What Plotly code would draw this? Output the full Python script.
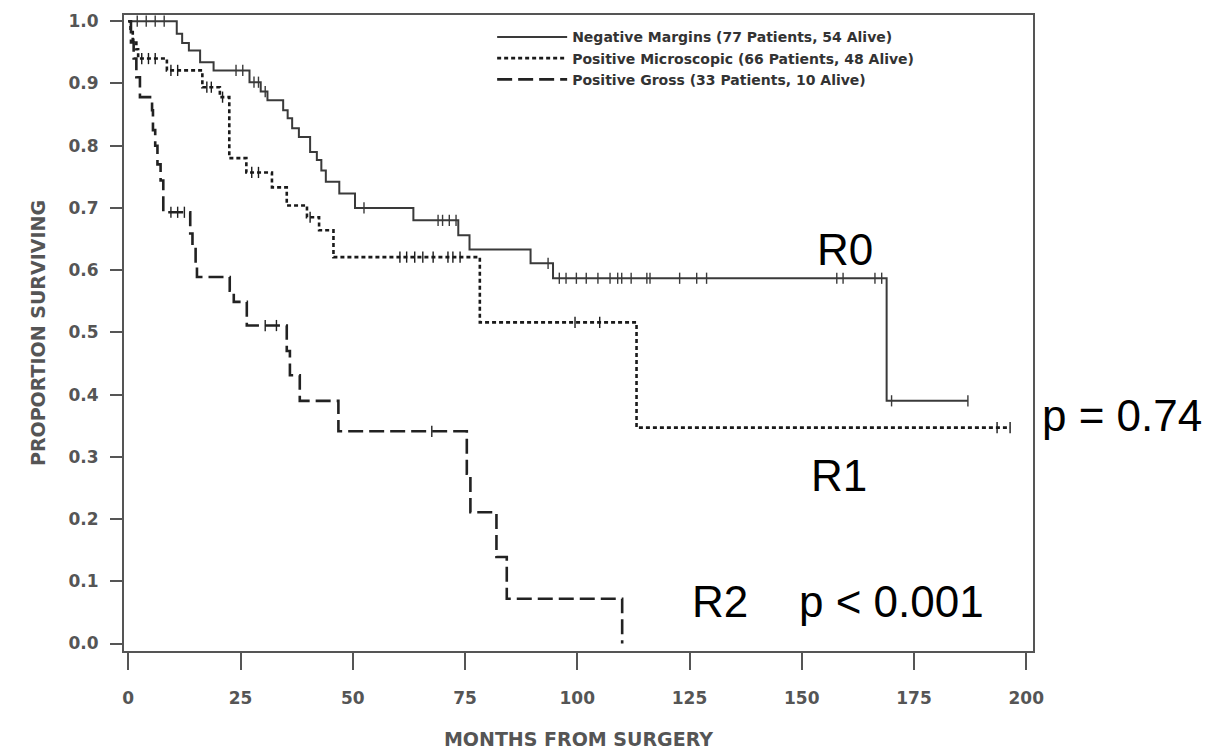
import plotly.graph_objects as go
import numpy as np

# ---- data ----
r0_t = [0, 10.8, 12, 13.5, 16, 19, 27, 29.5, 31, 34.5, 35.5, 36.5, 38, 40.5, 42, 43, 44, 47,
        50.5, 63.5, 73.5, 76, 89.6, 94.6, 168.9, 187]
r0_s = [1.0, 0.98, 0.965, 0.953, 0.934, 0.921, 0.902, 0.887, 0.873, 0.857, 0.844, 0.828, 0.814,
        0.79, 0.777, 0.76, 0.742, 0.723, 0.70, 0.68, 0.656, 0.633, 0.611, 0.587, 0.39, 0.39]

r1_t = [0, 0.5, 1.0, 1.8, 2.2, 8.6, 16.5, 20.4, 22.5, 26.3, 32, 35.3, 39.8, 42.5, 45.7, 78.3,
        113.2, 196.4]
r1_s = [1.0, 0.985, 0.97, 0.955, 0.94, 0.921, 0.894, 0.878, 0.78, 0.757, 0.733, 0.704, 0.685,
        0.664, 0.621, 0.516, 0.347, 0.347]

r2_t = [0, 0.6, 1.2, 1.8, 2.6, 5.3, 5.5, 6.0, 6.5, 7.2, 7.8, 13.8, 14.3, 15.0, 15.3, 22.6, 23.5,
        26.4, 35.3, 36.0, 38.2, 46.8, 75.4, 76.2, 82.0, 84.3, 110]
r2_s = [1.0, 0.966, 0.94, 0.91, 0.878, 0.857, 0.825, 0.80, 0.77, 0.744, 0.693, 0.659, 0.637,
        0.611, 0.589, 0.567, 0.549, 0.511, 0.47, 0.431, 0.39, 0.341, 0.273, 0.211, 0.139, 0.072, 0.0]

r0_cens = [2, 4, 6, 8, 24, 25.5, 28, 29, 30.5, 52.5, 69, 70, 71.5, 73, 93.5, 96, 97.5, 99.8, 102,
           104.6, 107.3, 109, 109.9, 112, 115.5, 116.2, 122.8, 126.6, 128.8, 157.8, 159.2, 166.3,
           167.8, 170, 187]
r1_cens = [3, 4.5, 6, 9.5, 11, 17.5, 18.5, 21, 27.5, 29, 40.5, 60.5, 62, 63.8, 65.6, 67.9, 71.2,
           72.3, 73.9, 99.5, 105, 193.5, 196.4]
r2_cens = [9.5, 11, 12.5, 30.5, 33, 67.6]

names = ["Negative Margins (77 Patients, 54 Alive)",
         "Positive Microscopic (66 Patients, 48 Alive)",
         "Positive Gross (33 Patients, 10 Alive)"]

x_ticks = [0, 25, 50, 75, 100, 125, 150, 175, 200]
y_ticks = [0.0, 0.1, 0.2, 0.3, 0.4, 0.5, 0.6, 0.7, 0.8, 0.9, 1.0]


def step_at(ts, ss, t):
    idx = np.searchsorted(np.array(ts), t, side="right") - 1
    return ss[max(idx, 0)]


styles = [dict(color="#3a3a3a", width=2.0, dash="solid"),
          dict(color="#1a1a1a", width=2.6, dash="4px,3px"),
          dict(color="#222222", width=2.6, dash="15px,6px")]

fig = go.Figure()
for (ts, ss, cs, nm, st) in [(r0_t, r0_s, r0_cens, names[0], styles[0]),
                             (r1_t, r1_s, r1_cens, names[1], styles[1]),
                             (r2_t, r2_s, r2_cens, names[2], styles[2])]:
    fig.add_trace(go.Scatter(x=ts, y=ss, mode="lines", line=dict(shape="hv", **st), name=nm))
    fig.add_trace(go.Scatter(x=cs, y=[step_at(ts, ss, c) for c in cs], mode="markers",
                             marker=dict(symbol="line-ns", size=8,
                                         line=dict(color=st["color"], width=1.4)),
                             showlegend=False, hoverinfo="skip"))

tickfont = dict(family="DejaVu Sans", size=17, color="#555555", weight="bold")
titlefont = dict(family="DejaVu Sans", size=19, color="#555555", weight="bold")

fig.update_layout(
    width=1218, height=752,
    paper_bgcolor="white", plot_bgcolor="white",
    margin=dict(l=116, r=193, t=7, b=109, autoexpand=False),
    showlegend=True,
    legend=dict(x=0.405, y=0.99, xanchor="left", yanchor="top",
                bgcolor="rgba(0,0,0,0)", borderwidth=0,
                font=dict(family="DejaVu Sans", size=14, color="#333333", weight="bold"),
                itemwidth=70, tracegroupgap=0),
    xaxis=dict(range=[-0.95, 201.5], tickvals=x_ticks, ticktext=[str(v) for v in x_ticks],
               showgrid=False, zeroline=False, showline=True, mirror=True,
               linecolor="#555555", linewidth=2, ticks="outside", ticklen=17, tickwidth=2,
               tickcolor="#555555", tickfont=tickfont, ticklabelstandoff=14,
               title=dict(text="MONTHS FROM SURGERY", font=titlefont, standoff=25),
               automargin=False),
    yaxis=dict(range=[-0.012, 1.01], tickvals=y_ticks, ticktext=[f"{v:.1f}" for v in y_ticks],
               showgrid=False, zeroline=False, showline=True, mirror=True,
               linecolor="#555555", linewidth=2, ticks="outside", ticklen=12, tickwidth=2,
               tickcolor="#555555", tickfont=tickfont, ticklabelstandoff=8,
               title=dict(text="PROPORTION SURVIVING", font=titlefont, standoff=18),
               automargin=False),
)

big = dict(family="Liberation Sans", size=44, color="black")
fig.add_annotation(x=159.6, y=0.633, text="R0", showarrow=False, font=big,
                   xanchor="center", yanchor="middle")
fig.add_annotation(x=158.2, y=0.27, text="R1", showarrow=False, font=big,
                   xanchor="center", yanchor="middle")
fig.add_annotation(x=131.8, y=0.0675, text="R2", showarrow=False, font=big,
                   xanchor="center", yanchor="middle")
fig.add_annotation(x=170.0, y=0.0675, text="p < 0.001", showarrow=False, font=big,
                   xanchor="center", yanchor="middle")
fig.add_annotation(xref="paper", x=1.008, y=0.367, text="p = 0.74", showarrow=False, font=big,
                   xanchor="left", yanchor="middle")

fig.write_html("out.html")
